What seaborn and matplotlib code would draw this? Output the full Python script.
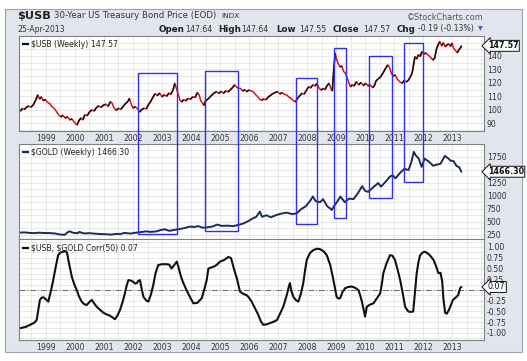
import numpy as np
import pandas as pd
import matplotlib
matplotlib.use("Agg")
import matplotlib.pyplot as plt
import seaborn as sns
from matplotlib.collections import LineCollection
from matplotlib.patches import Rectangle
import matplotlib.transforms as mtransforms
from matplotlib.ticker import MultipleLocator, FixedLocator

# ---------------- data ----------------
usb_t = [1998.07, 1998.12, 1998.18, 1998.25, 1998.32, 1998.40, 1998.48, 1998.56, 1998.64, 1998.72,
         1998.78, 1998.84, 1998.90, 1998.97, 1999.05, 1999.13, 1999.20, 1999.28, 1999.36, 1999.44,
         1999.52, 1999.58, 1999.66, 1999.74, 1999.82, 1999.90, 1999.96, 2000.02, 2000.07, 2000.13,
         2000.20, 2000.27, 2000.34, 2000.42, 2000.50, 2000.58, 2000.66, 2000.74, 2000.82, 2000.90,
         2000.98, 2001.06, 2001.14, 2001.22, 2001.28, 2001.34, 2001.42, 2001.50, 2001.58, 2001.66,
         2001.74, 2001.82, 2001.88, 2001.94, 2002.00, 2002.08, 2002.16, 2002.24, 2002.30, 2002.38,
         2002.46, 2002.54, 2002.60, 2002.68, 2002.76, 2002.84, 2002.92, 2003.00, 2003.08, 2003.16,
         2003.24, 2003.30, 2003.38, 2003.44, 2003.50, 2003.56, 2003.62, 2003.68, 2003.74, 2003.82,
         2003.90, 2003.98, 2004.06, 2004.14, 2004.22, 2004.28, 2004.34, 2004.40, 2004.44, 2004.50,
         2004.58, 2004.66, 2004.72, 2004.80, 2004.88, 2004.96, 2005.04, 2005.12, 2005.20, 2005.28,
         2005.36, 2005.44, 2005.50, 2005.56, 2005.62, 2005.70, 2005.78, 2005.86, 2005.92, 2006.00,
         2006.08, 2006.16, 2006.22, 2006.30, 2006.38, 2006.44, 2006.50, 2006.58, 2006.66, 2006.74,
         2006.82, 2006.90, 2006.98, 2007.06, 2007.14, 2007.22, 2007.30, 2007.38, 2007.46, 2007.54,
         2007.60, 2007.66, 2007.74, 2007.82, 2007.90, 2007.98, 2008.06, 2008.12, 2008.20, 2008.28,
         2008.34, 2008.40, 2008.48, 2008.56, 2008.62, 2008.70, 2008.76, 2008.82, 2008.87, 2008.92,
         2008.97, 2009.02, 2009.08, 2009.14, 2009.20, 2009.26, 2009.32, 2009.38, 2009.44, 2009.50,
         2009.56, 2009.62, 2009.70, 2009.78, 2009.86, 2009.94, 2010.02, 2010.10, 2010.18, 2010.26,
         2010.32, 2010.38, 2010.46, 2010.54, 2010.62, 2010.70, 2010.78, 2010.84, 2010.90, 2010.96,
         2011.04, 2011.12, 2011.20, 2011.28, 2011.34, 2011.42, 2011.50, 2011.56, 2011.62, 2011.66,
         2011.72, 2011.78, 2011.84, 2011.90, 2011.96, 2012.02, 2012.10, 2012.18, 2012.26, 2012.34,
         2012.40, 2012.46, 2012.52, 2012.58, 2012.64, 2012.70, 2012.76, 2012.82, 2012.88, 2012.94,
         2013.00, 2013.06, 2013.12, 2013.18, 2013.24, 2013.28, 2013.32]
usb_v = [100.5, 99.0, 100.8, 100.2, 101.5, 102.8, 101.9, 103.5, 106.8, 111.0,
         108.0, 109.5, 106.8, 107.5, 105.5, 104.6, 102.4, 101.0, 98.7, 96.0,
         94.5, 95.8, 93.8, 94.6, 92.5, 93.0, 91.2, 89.5, 88.6, 91.5,
         93.8, 92.4, 96.2, 95.5, 98.3, 99.8, 99.0, 101.6, 102.8, 101.7,
         103.4, 104.0, 102.5, 105.9, 104.8, 101.6, 99.5, 101.0, 100.3, 102.4,
         104.5, 106.0, 108.4, 104.0, 101.3, 102.2, 100.6, 98.3, 100.2, 101.0,
         100.6, 104.0, 105.8, 109.0, 111.9, 110.5, 112.3, 109.6, 111.0, 110.0,
         112.4, 111.3, 114.6, 119.6, 115.5, 111.5, 107.0, 105.8, 107.4, 106.6,
         108.4, 107.8, 109.6, 109.0, 112.8, 111.0, 106.5, 104.8, 103.2, 106.5,
         107.8, 109.6, 110.8, 112.5, 113.4, 112.2, 113.6, 112.2, 114.0, 113.2,
         115.0, 116.6, 118.4, 117.2, 116.0, 115.9, 114.0, 114.8, 113.4, 114.6,
         114.0, 113.0, 111.4, 109.6, 107.6, 107.0, 108.0, 107.4, 109.4, 110.6,
         111.9, 112.8, 113.4, 111.8, 112.6, 111.4, 110.9, 109.4, 108.2, 106.5,
         105.8, 108.0, 110.2, 112.2, 111.6, 114.5, 117.1, 116.2, 118.5, 117.6,
         119.6, 116.5, 114.6, 115.8, 115.0, 118.2, 119.6, 116.0, 114.0, 130.0,
         142.0, 137.5, 134.0, 131.8, 132.5, 128.5, 127.1, 124.0, 120.0, 117.1,
         118.5, 117.6, 120.8, 118.5, 120.2, 118.0, 119.6, 117.8, 118.4, 116.4,
         117.8, 121.5, 123.0, 124.6, 127.4, 130.5, 133.3, 131.6, 127.6, 125.2,
         125.8, 122.5, 120.8, 119.6, 121.8, 120.6, 122.1, 124.5, 127.1, 132.0,
         139.5, 137.8, 141.0, 139.6, 143.2, 141.5, 142.2, 140.6, 139.0, 137.0,
         138.5, 145.0, 148.5, 150.7, 147.6, 149.8, 147.0, 148.2, 149.0, 147.2,
         149.5, 145.5, 144.0, 142.5, 144.8, 145.6, 147.57]

gold_t = [1998.07, 1998.25, 1998.45, 1998.60, 1998.75, 1998.95, 1999.10, 1999.30, 1999.50, 1999.65,
          1999.75, 1999.82, 1999.95, 2000.10, 2000.15, 2000.30, 2000.50, 2000.70, 2000.90, 2001.05,
          2001.25, 2001.40, 2001.60, 2001.70, 2001.90, 2002.05, 2002.25, 2002.45, 2002.60, 2002.80,
          2002.95, 2003.10, 2003.25, 2003.45, 2003.60, 2003.80, 2003.95, 2004.10, 2004.25, 2004.40,
          2004.55, 2004.75, 2004.90, 2005.05, 2005.25, 2005.45, 2005.60, 2005.80, 2005.95, 2006.10,
          2006.25, 2006.37, 2006.45, 2006.60, 2006.75, 2006.95, 2007.10, 2007.30, 2007.50, 2007.65,
          2007.80, 2007.95, 2008.10, 2008.20, 2008.30, 2008.45, 2008.55, 2008.70, 2008.80, 2008.85,
          2008.95, 2009.05, 2009.15, 2009.30, 2009.45, 2009.60, 2009.75, 2009.90, 2010.00, 2010.10,
          2010.25, 2010.45, 2010.55, 2010.70, 2010.85, 2010.95, 2011.05, 2011.20, 2011.35, 2011.50,
          2011.60, 2011.68, 2011.75, 2011.85, 2011.95, 2012.05, 2012.20, 2012.35, 2012.45, 2012.60,
          2012.75, 2012.85, 2012.95, 2013.05, 2013.15, 2013.25, 2013.32]
gold_v = [295, 300, 290, 285, 295, 288, 287, 280, 258, 255,
          305, 320, 290, 285, 310, 280, 285, 275, 268, 265,
          258, 270, 272, 290, 278, 290, 305, 320, 310, 318,
          345, 360, 330, 350, 365, 385, 412, 405, 420, 390,
          395, 415, 450, 425, 430, 420, 440, 470, 510, 560,
          600, 700, 600, 630, 590, 635, 660, 680, 650, 670,
          750, 800, 900, 990, 900, 880, 940, 800, 760, 730,
          820, 900, 990, 880, 950, 940, 1050, 1190, 1100, 1080,
          1150, 1250, 1180, 1270, 1370, 1400, 1340, 1440, 1520, 1500,
          1660, 1850, 1780, 1720, 1560, 1720, 1660, 1580, 1600, 1620,
          1770, 1730, 1680, 1670, 1580, 1550, 1466.3]

corr_t = [1998.10, 1998.30, 1998.45, 1998.60, 1998.68, 1998.74, 1998.79, 1998.85, 1998.91, 1999.00,
          1999.08, 1999.16, 1999.25, 1999.34, 1999.42, 1999.48, 1999.54, 1999.62, 1999.71, 1999.74,
          1999.77, 1999.83, 1999.89, 1999.97, 2000.06, 2000.14, 2000.23, 2000.32, 2000.40, 2000.50,
          2000.58, 2000.66, 2000.75, 2000.86, 2000.98, 2001.10, 2001.21, 2001.30, 2001.38, 2001.46,
          2001.55, 2001.64, 2001.72, 2001.78, 2001.84, 2001.92, 2002.01, 2002.07, 2002.13, 2002.18,
          2002.24, 2002.30, 2002.36, 2002.45, 2002.53, 2002.62, 2002.70, 2002.78, 2002.87, 2003.00,
          2003.16, 2003.25, 2003.33, 2003.42, 2003.51, 2003.56, 2003.62, 2003.70, 2003.79, 2003.93,
          2004.08, 2004.22, 2004.37, 2004.46, 2004.54, 2004.60, 2004.68, 2004.77, 2004.88, 2005.00,
          2005.15, 2005.29, 2005.38, 2005.46, 2005.52, 2005.58, 2005.64, 2005.69, 2005.80, 2005.92,
          2006.00, 2006.09, 2006.20, 2006.32, 2006.40, 2006.49, 2006.60, 2006.72, 2006.84, 2006.96,
          2007.07, 2007.18, 2007.30, 2007.38, 2007.41, 2007.46, 2007.53, 2007.62, 2007.70, 2007.79,
          2007.87, 2007.93, 2007.99, 2008.10, 2008.22, 2008.34, 2008.45, 2008.57, 2008.68, 2008.80,
          2008.91, 2008.97, 2009.02, 2009.08, 2009.14, 2009.22, 2009.31, 2009.42, 2009.54, 2009.66,
          2009.77, 2009.83, 2009.89, 2009.95, 2010.00, 2010.03, 2010.06, 2010.17, 2010.29, 2010.40,
          2010.52, 2010.58, 2010.63, 2010.74, 2010.86, 2010.94, 2011.03, 2011.12, 2011.21, 2011.30,
          2011.38, 2011.49, 2011.58, 2011.66, 2011.72, 2011.78, 2011.84, 2011.90, 2011.98, 2012.07,
          2012.22, 2012.36, 2012.45, 2012.53, 2012.60, 2012.66, 2012.70, 2012.76, 2012.82, 2012.90,
          2012.96, 2013.03, 2013.12, 2013.21, 2013.28, 2013.32]
corr_v = [-0.89, -0.86, -0.81, -0.76, -0.70, -0.45, -0.23, -0.18, -0.17, -0.22,
          -0.27, -0.05, 0.23, 0.55, 0.81, 0.86, 0.88, 0.90, 0.89, 0.82,
          0.70, 0.50, 0.31, 0.14, 0.00, -0.15, -0.27, -0.33, -0.35, -0.28,
          -0.23, -0.31, -0.39, -0.46, -0.53, -0.57, -0.60, -0.64, -0.68, -0.60,
          -0.47, -0.28, -0.08, 0.10, 0.23, 0.22, 0.19, 0.15, 0.16, 0.21,
          0.23, 0.02, -0.16, -0.24, -0.27, -0.10, 0.12, 0.40, 0.58, 0.60,
          0.60, 0.59, 0.50, 0.58, 0.66, 0.55, 0.39, 0.22, 0.08, -0.12,
          -0.31, -0.30, -0.19, 0.02, 0.23, 0.50, 0.52, 0.54, 0.58, 0.66,
          0.70, 0.77, 0.74, 0.54, 0.40, 0.27, 0.10, -0.04, -0.09, -0.12,
          -0.18, -0.27, -0.42, -0.58, -0.72, -0.81, -0.80, -0.77, -0.74, -0.70,
          -0.55, -0.39, -0.12, 0.10, 0.16, -0.02, -0.16, -0.24, -0.27, -0.08,
          0.16, 0.45, 0.70, 0.86, 0.93, 0.96, 0.95, 0.90, 0.81, 0.58,
          0.23, 0.02, -0.16, -0.20, -0.19, -0.05, 0.04, 0.07, 0.08, 0.05,
          0.00, -0.12, -0.27, -0.45, -0.62, -0.50, -0.39, -0.34, -0.31, -0.20,
          -0.08, 0.15, 0.39, 0.62, 0.81, 0.80, 0.70, 0.48, 0.23, -0.08,
          -0.39, -0.50, -0.51, -0.50, -0.05, 0.39, 0.65, 0.81, 0.87, 0.89,
          0.82, 0.70, 0.55, 0.39, 0.40, 0.20, -0.20, -0.53, -0.55, -0.45,
          -0.35, -0.23, -0.18, -0.12, 0.05, 0.07]

years = list(range(1999, 2014))
year_labels = [str(y) for y in years]
usb_ticks = [90, 100, 110, 120, 130, 140]
gold_ticks = [250, 500, 750, 1000, 1250, 1750]
corr_ticks = [-1.0, -0.75, -0.5, -0.25, 0.25, 0.5, 0.75, 1.0]

# highlight boxes: x range (years), top (USB price), bottom (GOLD price)
box_x0 = [2002.16, 2004.48, 2007.61, 2008.93, 2010.14, 2011.34]
box_x1 = [2003.51, 2005.62, 2008.36, 2009.33, 2010.94, 2011.98]
box_top = [127.1, 128.8, 123.4, 145.7, 140.0, 149.5]
box_bottom = [269, 327, 461, 577, 961, 1269]

# ---------------- figure ----------------
sns.set_style("white")
plt.rcParams['font.family'] = ['DejaVu Sans']

W, H = 527, 361
fig = plt.figure(figsize=(W / 100, H / 100), dpi=100)
fig.patch.set_facecolor('white')

def fr(x0, y0, x1, y1):
    return [x0 / W, 1 - y1 / H, (x1 - x0) / W, (y1 - y0) / H]

fig.patches.append(Rectangle((5 / W, 1 - 352 / H), 517 / W, 343 / H, transform=fig.transFigure,
                             fc='#e1e6ee', ec='#9aa3b0', lw=0.8, zorder=-10))

ax1 = fig.add_axes(fr(19, 36, 484, 131))
ax2 = fig.add_axes(fr(19, 144, 484, 239))
ax3 = fig.add_axes(fr(19, 239, 484, 340))

XLIM = (1998.07, 2014.10)
tick_kw = dict(labelsize=5.6, colors='#333333', length=0, pad=2)
for ax in (ax1, ax2, ax3):
    ax.set_facecolor('white')
    ax.set_xlim(*XLIM)
    for s in ax.spines.values():
        s.set_color('#808080')
        s.set_linewidth(0.8)
    ax.xaxis.set_major_locator(FixedLocator(years))
    ax.xaxis.set_minor_locator(MultipleLocator(0.5))
    ax.grid(which='both', color='#e0e0e0', linewidth=0.5)
    ax.set_axisbelow(True)
    ax.yaxis.tick_right()
    ax.tick_params(axis='both', which='both', **tick_kw)

# panel 1: USB
df_usb = pd.DataFrame({'t': usb_t, 'v': usb_v})
sns.lineplot(data=df_usb, x='t', y='v', ax=ax1, color='#e01010', linewidth=1.1)
pts = np.column_stack([usb_t, usb_v])
segs = np.stack([pts[:-1], pts[1:]], axis=1)
up = np.diff(usb_v) > 0
ax1.add_collection(LineCollection(segs[up], colors='#111111', linewidths=1.1, zorder=3))
ax1.set_ylim(84.1, 154.9)
ax1.yaxis.set_major_locator(FixedLocator(usb_ticks))
ax1.yaxis.set_minor_locator(MultipleLocator(5))
ax1.set_xticks(years)
ax1.set_xticklabels(year_labels)
ax1.set_xlabel(''); ax1.set_ylabel('')

# panel 2: GOLD
df_gold = pd.DataFrame({'t': gold_t, 'v': gold_v})
sns.lineplot(data=df_gold, x='t', y='v', ax=ax2, color='#1c2a5c', linewidth=1.4)
ax2.set_ylim(173, 2000)
ax2.yaxis.set_major_locator(FixedLocator(gold_ticks))
ax2.yaxis.set_minor_locator(MultipleLocator(125))
ax2.tick_params(axis='x', labelbottom=False)
ax2.set_xlabel(''); ax2.set_ylabel('')

# panel 3: correlation
df_corr = pd.DataFrame({'t': corr_t, 'v': corr_v})
sns.lineplot(data=df_corr, x='t', y='v', ax=ax3, color='#111111', linewidth=1.5)
ax3.axhline(0, color='#666666', linewidth=0.7, linestyle=(0, (6, 2, 1, 2)), zorder=1)
ax3.set_ylim(-1.163, 1.186)
ax3.yaxis.set_major_locator(FixedLocator(corr_ticks))
ax3.yaxis.set_minor_locator(MultipleLocator(0.125))
ax3.set_yticklabels(['%.2f' % v for v in corr_ticks])
ax3.set_xticks(years)
ax3.set_xticklabels(year_labels)
ax3.set_xlabel(''); ax3.set_ylabel('')

# panel legends
leg_kw = dict(fontsize=5.6, color='#222222', va='center', ha='left')
for ax, txt, col in ((ax1, '$USB (Weekly) 147.57', '#111111'),
                     (ax2, '$GOLD (Weekly) 1466.30', '#1c2a5c'),
                     (ax3, '$USB, $GOLD Corr(50) 0.07', '#111111')):
    ax.plot([0.006, 0.022], [0.915, 0.915], transform=ax.transAxes, color=col, lw=1.6, solid_capstyle='butt')
    ax.text(0.026, 0.915, txt.replace('$', r'\$'), transform=ax.transAxes, **leg_kw)

# value tags on the right axis
for ax, val, txt, bold in ((ax1, usb_v[-1], '147.57', True),
                           (ax2, gold_v[-1], '1466.30', True),
                           (ax3, corr_v[-1], '0.07', False)):
    tr = mtransforms.blended_transform_factory(ax.transAxes, ax.transData)
    ax.text(1.008, val, txt, transform=tr, fontsize=5.8, va='center', ha='left',
            fontweight='bold' if bold else 'normal', color='#111111', clip_on=False, zorder=10,
            bbox=dict(boxstyle='larrow,pad=0.12', fc='white', ec='#111111', lw=0.7))

# highlight boxes spanning panel 1 and panel 2
inv = fig.transFigure.inverted()
for x0, x1, top, bot in zip(box_x0, box_x1, box_top, box_bottom):
    p0 = inv.transform(ax1.transData.transform((x0, top)))
    p1 = inv.transform(ax2.transData.transform((x1, bot)))
    fig.patches.append(Rectangle((p0[0], p1[1]), p1[0] - p0[0], p0[1] - p1[1],
                                 transform=fig.transFigure, fill=False, ec='#2f2ff0', lw=1.0, zorder=20))

# header texts
fig.text(17 / W, 1 - 16 / H, r'\$USB', fontsize=8.2, fontweight='bold', color='#222222', va='center')
fig.text(54 / W, 1 - 16 / H, '30-Year US Treasury Bond Price (EOD)', fontsize=6.2, color='#333333', va='center')
fig.text(221 / W, 1 - 16 / H, 'INDX', fontsize=5.3, color='#333333', va='center')
fig.text(17 / W, 1 - 29 / H, '25-Apr-2013', fontsize=5.6, color='#333333', va='center')
fig.text(484 / W, 1 - 17 / H, '©StockCharts.com', fontsize=5.8, color='#555555', va='center', ha='right')

hdr = [(159, 'Open', True), (185, '147.64', False), (218, 'High', True), (241, '147.64', False),
       (276, 'Low', True), (299, '147.55', False), (333, 'Close', True), (363, '147.57', False),
       (397, 'Chg', True), (418, '-0.19 (-0.13%)', False)]
for x, s, b in hdr:
    fig.text(x / W, 1 - 29 / H, s, fontsize=6.3 if b else 5.6, fontweight='bold' if b else 'normal',
             color='#222222' if b else '#333333', va='center')
fig.text(478 / W, 1 - 29 / H, '▼', fontsize=4.5, color='#3a5fcd', va='center')

fig.savefig('out.png', dpi=100, facecolor=fig.get_facecolor())
